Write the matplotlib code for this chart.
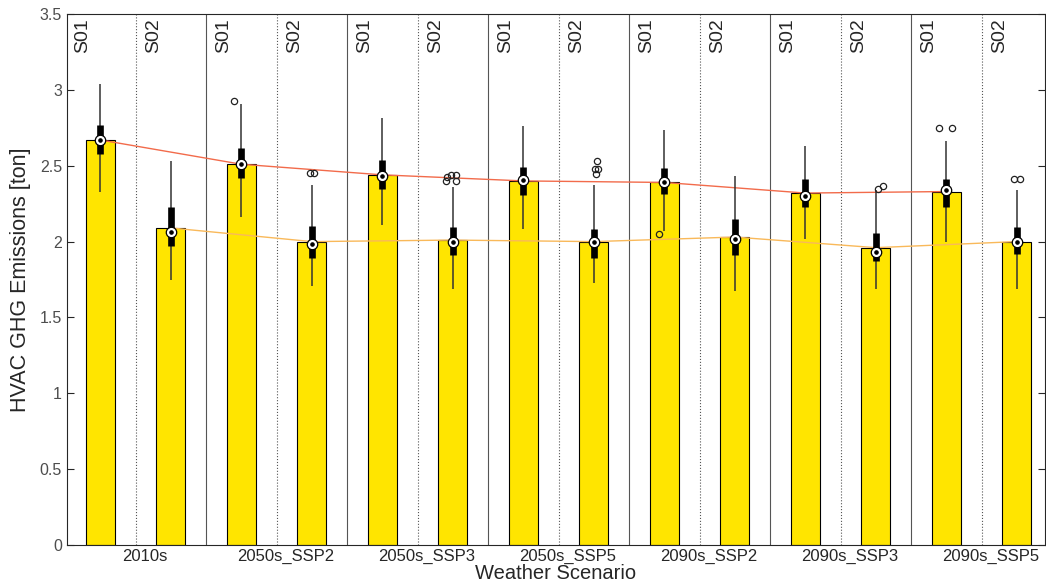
import matplotlib.pyplot as plt
import numpy as np

plt.rcParams['font.family'] = ['Liberation Sans', 'DejaVu Sans']

groups = ['2010s', '2050s_SSP2', '2050s_SSP3', '2050s_SSP5', '2090s_SSP2', '2090s_SSP3', '2090s_SSP5']
scenarios = ['S01', 'S02']

# one entry per bar: S01, S02 for each weather scenario
means = [2.67, 2.09, 2.51, 2.00, 2.44, 2.01, 2.40, 2.00, 2.39, 2.03, 2.32, 1.96, 2.33, 2.00]
medians = [2.67, 2.065, 2.51, 1.985, 2.43, 1.995, 2.405, 1.995, 2.39, 2.02, 2.30, 1.93, 2.34, 1.995]
q1 = [2.58, 1.97, 2.42, 1.89, 2.345, 1.91, 2.31, 1.895, 2.315, 1.91, 2.225, 1.87, 2.225, 1.915]
q3 = [2.77, 2.225, 2.615, 2.105, 2.54, 2.095, 2.495, 2.085, 2.485, 2.15, 2.41, 2.055, 2.415, 2.095]
whisk_lo = [2.33, 1.75, 2.16, 1.71, 2.11, 1.69, 2.08, 1.725, 2.07, 1.675, 2.02, 1.69, 1.995, 1.69]
whisk_hi = [3.04, 2.53, 2.905, 2.37, 2.815, 2.36, 2.76, 2.37, 2.735, 2.43, 2.63, 2.34, 2.66, 2.34]

outliers = [[], [], [2.93], [2.45, 2.45], [], [2.40, 2.425, 2.44, 2.44, 2.40], [],
            [2.533, 2.48, 2.48, 2.446], [2.05], [], [], [2.345, 2.365], [2.75, 2.75], [2.41, 2.41]]
outlier_dx = [[], [], [-0.1], [-0.03, 0.03], [], [-0.09, -0.08, -0.02, 0.05, 0.05], [],
              [0.05, 0.01, 0.06, 0.03], [-0.07], [], [], [0.03, 0.1], [-0.11, 0.08], [-0.035, 0.04]]

x = np.arange(len(means))

fig = plt.figure(figsize=(10.46, 5.86), dpi=100)
ax = fig.add_axes([0.064, 0.07, 0.935, 0.906])

# separators: dotted inside a group, solid between groups
for b in np.arange(0.5, len(means) - 0.5, 1):
    ls = ':' if int(b - 0.5) % 2 == 0 else '-'
    ax.axvline(b, color='#555555', lw=0.8, ls=ls, zorder=1)

ax.bar(x, means, width=0.41, color='#FFE500', edgecolor='black', linewidth=0.8, zorder=2)

ax.plot(x[0::2], means[0::2], color='#F26B4B', lw=1.0, zorder=3)
ax.plot(x[1::2], means[1::2], color='#F9B95A', lw=1.0, zorder=3)

ax.vlines(x, whisk_lo, whisk_hi, color='#333333', lw=1.1, zorder=4)
ax.vlines(x, q1, q3, color='black', lw=4.8, zorder=5)
ax.plot(x, medians, 'o', ms=7.5, mfc='white', mec='black', mew=0.9, zorder=6)
ax.plot(x, medians, 'o', ms=2.3, color='black', zorder=7)

for i in range(len(means)):
    if outliers[i]:
        ax.plot(x[i] + np.array(outlier_dx[i]), outliers[i], 'o', ms=4.5,
                mfc='none', mec='#222222', mew=0.9, zorder=6)

for i in x:
    ax.text(i - 0.245, 3.475, scenarios[i % 2], rotation=90, ha='center', va='top',
            fontsize=14, color='#262626')

ax.set_xlim(-0.474, 13.4)
ax.set_ylim(0, 3.5)
ax.set_xticks(x[0::2] + 0.63, groups)
yt = np.arange(0, 3.51, 0.5)
ax.set_yticks(yt, [f'{v:g}' for v in yt])
ax.tick_params(axis='x', length=0, pad=3, labelsize=12, labelcolor='#262626')
ax.tick_params(axis='y', direction='in', right=True, length=5, labelsize=11.5,
               labelcolor='#4d4d4d', color='#262626')
for s in ax.spines.values():
    s.set_color('#262626')
    s.set_linewidth(0.8)

ax.set_xlabel('Weather Scenario', fontsize=14.5, color='#262626', labelpad=0)
ax.set_ylabel('HVAC GHG Emissions [ton]', fontsize=15.5, color='#262626', labelpad=6)

fig.savefig('out.png', dpi=100)
